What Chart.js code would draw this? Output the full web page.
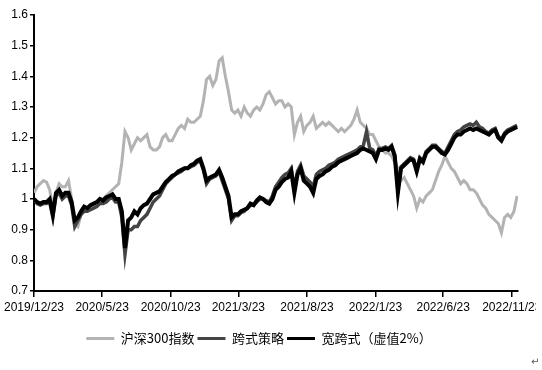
<!DOCTYPE html>
<html lang="zh-CN">
<head>
    <meta charset="UTF-8">
    <title>沪深300指数与跨式策略</title>
    <script src="https://cdn.jsdelivr.net/npm/chart.js"></script>
    <style>
        body { margin: 0; background: #fff; }
        #wrap { position: relative; width: 542px; height: 370px; overflow: hidden; }
        #clip { width: 536px; height: 370px; overflow: hidden; }
        #mark { position: absolute; left: 531px; top: 356px; font: 10px "DejaVu Sans"; color: #555; }
    </style>
</head>
<body>
    <div id="wrap">
        <div id="clip"><canvas id="chart" width="542" height="370"></canvas></div>
        <span id="mark">↵</span>
    </div>

    <script>
        // weekly samples, days since 2019/12/23
        const startDate = Date.UTC(2019, 11, 23);
        const sampleDays = [];
        for (let d = 0; d <= 1078; d += 7) sampleDays.push(d);

        const xTickLabels = ['2019/12/23', '2020/5/23', '2020/10/23', '2021/3/23',
                             '2021/8/23', '2022/1/23', '2022/6/23', '2022/11/23'];
        const yTickValues = [0.7, 0.8, 0.9, 1.0, 1.1, 1.2, 1.3, 1.4, 1.5, 1.6];

        // 沪深300指数
        const hs300 = [
            1.02, 1.04, 1.05, 1.06, 1.055, 1.03, 0.97, 1.02, 1.05, 1.04,
            1.04, 1.06, 1.0, 0.92, 0.91, 0.95, 0.96, 0.97, 0.97, 0.98,
            0.99, 1.0, 1.0, 1.01, 1.02, 1.03, 1.04, 1.05, 1.12, 1.22,
            1.2, 1.16, 1.18, 1.2, 1.19, 1.2, 1.21, 1.17, 1.16, 1.16,
            1.17, 1.2, 1.21, 1.19, 1.19, 1.21, 1.23, 1.24, 1.23, 1.26,
            1.25, 1.25, 1.26, 1.27, 1.32, 1.39, 1.4, 1.37, 1.39, 1.45,
            1.46, 1.4, 1.35, 1.29, 1.28, 1.29, 1.27, 1.3, 1.28, 1.27,
            1.29, 1.3, 1.29, 1.31, 1.34, 1.35, 1.33, 1.31, 1.32, 1.32,
            1.3, 1.31, 1.3, 1.21, 1.25, 1.27, 1.22, 1.24, 1.25, 1.27,
            1.23, 1.24, 1.25, 1.24, 1.25, 1.24, 1.23, 1.22, 1.23, 1.22,
            1.23, 1.24, 1.26, 1.29, 1.25, 1.24, 1.23, 1.21, 1.21, 1.19,
            1.17, 1.16, 1.15, 1.15, 1.14, 1.12, 1.1, 1.06, 1.07, 1.05,
            1.03, 1.01, 0.97, 1.0, 0.99, 1.01, 1.02, 1.03, 1.06, 1.09,
            1.11, 1.14, 1.12, 1.1, 1.09, 1.07, 1.05, 1.06, 1.05, 1.03,
            1.03, 1.02, 1.0, 0.98, 0.97, 0.95, 0.94, 0.93, 0.92, 0.89,
            0.94, 0.95, 0.94, 0.96, 1.01
        ];

        // 跨式策略
        const straddle = [
            1.0, 0.985, 0.98, 0.985, 0.985, 0.99, 0.94, 1.01, 1.02, 1.0,
            1.01, 1.01, 0.98, 0.91, 0.93, 0.95, 0.96, 0.96, 0.965, 0.97,
            0.975, 0.985, 0.985, 0.99, 1.0, 1.005, 0.99, 0.99, 0.94, 0.82,
            0.9, 0.9, 0.91, 0.91, 0.93, 0.94, 0.95, 0.97, 0.99, 1.0,
            1.01, 1.03, 1.05, 1.06, 1.07, 1.08, 1.085, 1.09, 1.1, 1.1,
            1.105, 1.11, 1.12, 1.125, 1.095, 1.05, 1.065, 1.07, 1.075, 1.09,
            1.06, 1.03, 1.0, 0.93, 0.945, 0.945, 0.955, 0.96, 0.97, 0.98,
            0.98, 0.99, 1.0, 1.0, 0.995, 0.99, 1.01, 1.04, 1.055, 1.07,
            1.08, 1.085, 1.1, 1.035, 1.09, 1.11, 1.075, 1.065, 1.055, 1.04,
            1.08, 1.09, 1.095, 1.1, 1.11, 1.115, 1.12, 1.13, 1.135, 1.14,
            1.145, 1.15, 1.155, 1.16, 1.17, 1.175, 1.22, 1.165, 1.16, 1.14,
            1.165, 1.165, 1.17, 1.165, 1.175, 1.145, 1.03, 1.105, 1.115, 1.125,
            1.135, 1.13, 1.095, 1.135, 1.125, 1.155, 1.165, 1.175, 1.175, 1.165,
            1.155, 1.15, 1.17, 1.19, 1.21, 1.22, 1.225, 1.235, 1.24, 1.245,
            1.24, 1.25, 1.235, 1.23, 1.22, 1.215, 1.225, 1.23, 1.205, 1.195,
            1.215, 1.225, 1.23, 1.235, 1.24
        ];

        // 宽跨式（虚值2%）
        const strangle = [
            1.0, 0.99, 0.985, 0.99, 0.99, 1.0, 0.95, 1.02, 1.03, 1.01,
            1.02, 1.02, 0.99, 0.93, 0.94, 0.96, 0.975, 0.97, 0.98, 0.985,
            0.99, 1.0, 0.995, 1.005, 1.01, 1.015, 1.0, 1.0, 0.96, 0.84,
            0.93, 0.94, 0.96, 0.95, 0.97, 0.98, 0.985, 1.0, 1.015, 1.02,
            1.025, 1.04, 1.055, 1.065, 1.075, 1.08, 1.09, 1.095, 1.1, 1.1,
            1.11, 1.115, 1.125, 1.13, 1.1, 1.06, 1.07, 1.075, 1.08, 1.095,
            1.07, 1.04, 1.01, 0.94, 0.95, 0.95, 0.96, 0.965, 0.97, 0.985,
            0.98, 0.995, 1.005, 1.0, 0.99, 0.985, 1.0, 1.03, 1.04, 1.055,
            1.065, 1.07, 1.09, 1.02, 1.08, 1.1, 1.06, 1.05, 1.04, 1.02,
            1.065, 1.075, 1.08, 1.09, 1.095, 1.105, 1.11, 1.12, 1.125, 1.13,
            1.135, 1.14, 1.145, 1.15, 1.16, 1.165, 1.16, 1.155, 1.15, 1.13,
            1.16, 1.16, 1.165, 1.16, 1.17, 1.14, 1.02, 1.1, 1.11, 1.12,
            1.13, 1.125, 1.09, 1.13, 1.12, 1.15, 1.16, 1.17, 1.17, 1.16,
            1.15, 1.145, 1.16, 1.18, 1.2, 1.21, 1.21, 1.22, 1.225, 1.23,
            1.225, 1.23, 1.225, 1.22, 1.215, 1.21, 1.22, 1.225, 1.2, 1.19,
            1.21, 1.22, 1.225, 1.23, 1.235
        ];

        function dayOf(label) {
            const [y, m, d] = label.split('/').map(Number);
            return Math.round((Date.UTC(y, m - 1, d) - startDate) / 86400000);
        }
        const xTickDays = xTickLabels.map(dayOf);

        const toPoints = arr => arr.map((v, i) => ({ x: sampleDays[i], y: v }));

        const tickFont = { family: 'Liberation Sans', size: 12 };

        const chart = new Chart(document.getElementById('chart'), {
            type: 'line',
            data: {
                datasets: [
                    { label: '沪深300指数', data: toPoints(hs300), borderColor: '#b3b3b3', backgroundColor: '#b3b3b3', borderWidth: 3, order: 2 },
                    { label: '跨式策略', data: toPoints(straddle), borderColor: '#444444', backgroundColor: '#444444', borderWidth: 3.5, order: 1 },
                    { label: '宽跨式（虚值2%）', data: toPoints(strangle), borderColor: '#000000', backgroundColor: '#000000', borderWidth: 4, order: 0 }
                ]
            },
            options: {
                responsive: false,
                animation: false,
                elements: { point: { radius: 0 }, line: { tension: 0 } },
                layout: { padding: { left: 0, right: 24, top: 15, bottom: 15 } },
                plugins: {
                    tooltip: { enabled: false },
                    legend: {
                        position: 'bottom',
                        labels: {
                            font: { family: 'Noto Sans CJK SC', size: 13 },
                            color: '#000',
                            boxWidth: 28,
                            boxHeight: 3,
                            padding: 3,
                            sort: (a, b) => a.datasetIndex - b.datasetIndex,
                            generateLabels: c => Chart.defaults.plugins.legend.labels.generateLabels(c).map(l => {
                                l.lineWidth = 0;
                                l.fillStyle = l.strokeStyle;
                                return l;
                            })
                        }
                    }
                },
                scales: {
                    x: {
                        type: 'linear',
                        min: 0,
                        max: 1080,
                        afterBuildTicks: s => { s.ticks = xTickDays.map(v => ({ value: v })); },
                        afterFit: s => { s.paddingLeft = 0; s.paddingRight = 0; s.height = 38; },
                        ticks: {
                            autoSkip: false,
                            maxRotation: 0,
                            color: '#000',
                            font: tickFont,
                            padding: 3,
                            callback: (v, i) => xTickLabels[i]
                        },
                        grid: { drawOnChartArea: false, drawTicks: true, tickLength: 6, color: '#000', lineWidth: 1.5 },
                        border: { color: '#000', width: 2 }
                    },
                    y: {
                        min: 0.7,
                        max: 1.6,
                        afterBuildTicks: s => { s.ticks = yTickValues.map(v => ({ value: v })); },
                        afterFit: s => { s.width = 34; s.paddingTop = 0; s.paddingBottom = 0; },
                        ticks: {
                            color: '#000',
                            font: tickFont,
                            padding: 2,
                            callback: v => String(Math.round(v * 10) / 10)
                        },
                        grid: { drawOnChartArea: false, drawTicks: true, tickLength: 4, color: '#000', lineWidth: 1.5 },
                        border: { color: '#000', width: 2 }
                    }
                }
            }
        });
    </script>
</body>
</html>
